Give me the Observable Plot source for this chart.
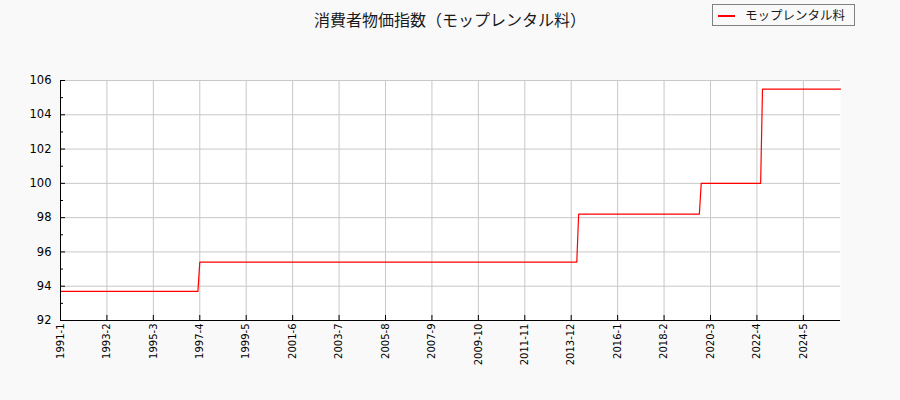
<!DOCTYPE html>
<html>
<head>
<meta charset="utf-8">
<script src="https://cdn.jsdelivr.net/npm/d3@7"></script>
<script src="https://cdn.jsdelivr.net/npm/@observablehq/plot@0.6"></script>
<style>
  html, body { margin: 0; padding: 0; background: #f9f9f9; }
  #wrap { position: relative; width: 900px; height: 400px; background: #f9f9f9; overflow: hidden; }
  #title { position: absolute; left: 0; top: 11px; width: 900px; text-align: center;
           font-family: "Noto Sans CJK JP", "DejaVu Sans", sans-serif; font-size: 16px; line-height: 16px; color: #1a1a1a; }
  #legend { position: absolute; left: 712px; top: 4px; width: 141px; height: 20px;
            border: 1px solid #808080; background: #f9f9f9; box-sizing: content-box; }
  #legend .swatch { position: absolute; left: 5px; top: 10px; width: 17px; height: 1.5px; background: #ff0000; }
  #legend .lab { position: absolute; left: 32px; top: 3px; font-family: "Noto Sans CJK JP", "DejaVu Sans", sans-serif;
                 font-size: 12.5px; line-height: 14px; color: #1a1a1a; white-space: nowrap; }
  #chart { position: absolute; left: 0; top: 0; }
  #chart svg g[aria-label="y-axis tick label"] text { font-size: 11.5px; }
  #chart svg g[aria-label="x-axis tick label"] text { font-size: 10px; }
</style>
</head>
<body>
<div id="wrap">
  <div id="chart"></div>
  <div id="title"></div>
  <div id="legend"><div class="swatch"></div><div class="lab"></div></div>
</div>
<script>
// ---- data ----
const chartTitle = "消費者物価指数（モップレンタル料）";
const seriesName = "モップレンタル料";
// months where the level changes (last month of old level / first month of new level)
const months = ["1991-1", "1997-3", "1997-4", "2014-3", "2014-4", "2019-9", "2019-10", "2022-6", "2022-7", "2026-1"];
const values = [93.7, 93.7, 95.4, 95.4, 98.2, 98.2, 100.0, 100.0, 105.5, 105.5];
const xTickLabels = ["1991-1", "1993-2", "1995-3", "1997-4", "1999-5", "2001-6", "2003-7", "2005-8",
                     "2007-9", "2009-10", "2011-11", "2013-12", "2016-1", "2018-2", "2020-3", "2022-4", "2024-5"];
const yTicks = [92, 94, 96, 98, 100, 102, 104, 106];
const yMinorTicks = [93, 95, 97, 99, 101, 103, 105];
const xStart = "1991-1";
const xEnd = "2026-1";

// ---- helpers ----
const monthIndex = s => { const [y, m] = s.split("-").map(Number); return (y - 1991) * 12 + (m - 1); };
const data = months.map((m, k) => ({i: monthIndex(m), v: values[k]}));
const xTickPos = xTickLabels.map(monthIndex);
const labelOf = new Map(xTickLabels.map(l => [monthIndex(l), l]));

document.getElementById("title").textContent = chartTitle;
document.querySelector("#legend .lab").textContent = seriesName;

const grid = "#c8c8c8";
const chart = Plot.plot({
  width: 900,
  height: 400,
  marginLeft: 60,
  marginRight: 60,
  marginTop: 80,
  marginBottom: 80,
  style: {background: "transparent", fontFamily: "DejaVu Sans, sans-serif", fontSize: "10px", color: "#000"},
  x: {domain: [monthIndex(xStart), monthIndex(xEnd)], label: null},
  y: {domain: [92, 106], label: null},
  marks: [
    Plot.frame({fill: "white", stroke: null}),
    Plot.gridX(xTickPos, {stroke: grid, strokeOpacity: 1, strokeWidth: 1}),
    Plot.gridY(yTicks, {stroke: grid, strokeOpacity: 1, strokeWidth: 1}),
    Plot.line(data, {x: "i", y: "v", stroke: "#ff0000", strokeWidth: 1.2}),
    Plot.ruleX([monthIndex(xStart)], {stroke: "#000", strokeWidth: 1}),
    Plot.ruleY([92], {stroke: "#000", strokeWidth: 1}),
    Plot.axisX(xTickPos, {tickSize: -5, tickPadding: 8, tickRotate: -90, label: null,
      tickFormat: d => labelOf.get(d), fill: "#000", stroke: "#000"}),
    Plot.axisY(yTicks, {tickSize: -5, tickPadding: 14, label: null, fill: "#000", stroke: "#000"}),
    Plot.axisY(yMinorTicks, {tickSize: -3, tickFormat: () => "", label: null, stroke: "#000"})
  ]
});
document.getElementById("chart").appendChild(chart);
</script>
</body>
</html>
